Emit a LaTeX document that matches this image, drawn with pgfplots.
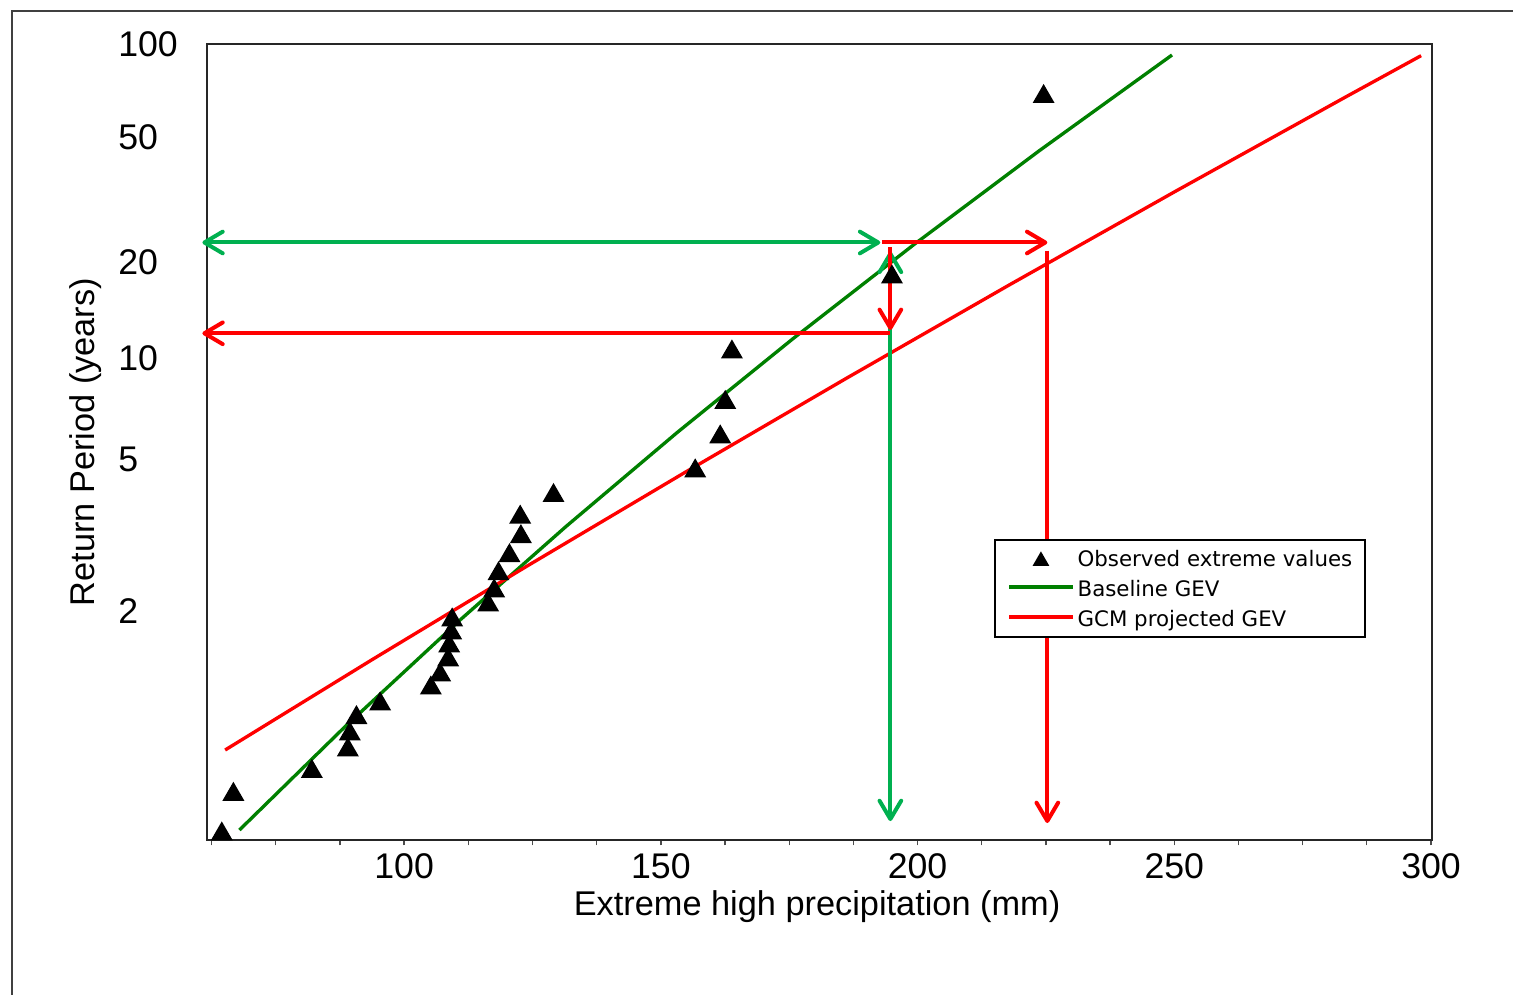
\documentclass[border=0pt]{standalone}
\usepackage{fontspec}
\setmainfont{Liberation Sans}
\newfontfamily\legfont{DejaVu Sans}
\usepackage{pgfplots}
\usepackage{pgfplotstable}
\pgfplotsset{compat=1.18}
\usetikzlibrary{arrows.meta}
\definecolor{linegreen}{RGB}{0,128,0}
\definecolor{arrowgreen}{RGB}{0,176,80}
\definecolor{myred}{RGB}{255,0,0}

\pgfplotsset{
  leglinecode/.style={legend image code/.code={\draw[##1] (0pt,0.4pt) -- (19pt,0.4pt);}},
  legmarkcode/.style={legend image code/.code={\draw[##1, mark size=2.3pt] plot coordinates {(9.5pt,-0.8pt)};}},
}

% y values are Gumbel reduced variates  -ln(-ln(1-1/T))
\pgfplotstableread{
x y
64.48 -1.299
66.74 -1.003
82.02 -0.832
89.03 -0.671
89.42 -0.552
90.71 -0.430
95.32 -0.328
105.20 -0.209
107.01 -0.111
108.57 0.001
108.77 0.105
109.16 0.202
109.35 0.299
116.36 0.411
117.53 0.516
118.37 0.644
120.51 0.779
122.74 0.921
122.60 1.067
129.09 1.228
156.69 1.412
161.56 1.666
162.54 1.923
163.84 2.300
195.01 2.860
224.55 4.207
}\observed

\pgfplotstableread{
x y
67.91 -1.269
88.41 -0.5
110.91 0.3
131.60 1.0
153.20 1.7
175.74 2.4
199.20 3.1
223.59 3.8
249.56 4.518
}\baseline

\pgfplotstableread{
x y
65.13 -0.6714
93.62 0.0
123.85 0.7
154.63 1.4
185.95 2.1
217.81 2.8
250.22 3.5
283.16 4.2
298.07 4.513
}\gcm

\begin{document}
\begin{tikzpicture}
\useasboundingbox (-62.1pt,-46.2pt) rectangle (391.8pt,252pt);
\draw[black!75, line width=0.6pt] (-58.6pt,-60pt) -- (-58.6pt,248.8pt) -- (400pt,248.8pt);
\begin{axis}[
  scale only axis, width=367.5pt, height=238.8pt,
  xmin=61.6, xmax=300.2, ymin=-1.3435, ymax=4.6001,
  clip=false,
  axis line style={black!85, line width=0.6pt},
  xtick={100,150,200,250,300},
  minor xtick={62.5,75,87.5,112.5,125,137.5,162.5,175,187.5,212.5,225,237.5,262.5,275,287.5},
  xtick pos=left, tick align=outside,
  major tick length=1.6pt, minor tick length=1.6pt,
  every tick/.style={black!70, line width=0.4pt},
  ytick={0.3665,1.4999,2.2504,2.9702,3.9019,4.6001},
  yticklabels={2,5,10,20,50,100},
  ytick style={draw=none},
  ticklabel style={font=\fontsize{10.7}{12}\selectfont},
  /pgf/number format/assume math mode=true,
  yticklabel style={anchor=west, inner sep=0pt, xshift=-25.2pt},
  xticklabel style={anchor=north, inner sep=0pt, yshift=-2.4pt},
  xlabel={Extreme high precipitation (mm)},
  ylabel={Return Period (years)},
  label style={font=\fontsize{10.3}{12}\selectfont},
  xlabel style={at={(axis description cs:0.498,-0.0842)}, anchor=center},
  ylabel style={at={(axis description cs:-0.0988,0.5)}, anchor=center},
  legend cell align=left,
  legend style={at={(axis description cs:0.6424,0.3781)}, anchor=north west,
    draw=black, line width=0.6pt, inner xsep=3.8pt, inner ysep=1.5pt,
    font=\legfont\fontsize{6.4}{8}\selectfont, row sep=1pt,
    nodes={inner sep=0pt, text height=6.4pt, text depth=1.6pt},
    /tikz/every odd column/.append style={column sep=1pt}},
]
\addplot[only marks, mark=triangle*, mark size=3.4pt, black, legmarkcode]
  table[x=x,y=y]{\observed};
\addlegendentry{Observed extreme values}
\addplot[linegreen, line width=1pt, no marks, leglinecode]
  table[x=x,y=y]{\baseline};
\addlegendentry{Baseline GEV}
\addplot[myred, line width=1pt, no marks, leglinecode]
  table[x=x,y=y]{\gcm};
\addlegendentry{GCM projected GEV}

% annotation arrows
\addplot[forget plot, arrowgreen, line width=1.2pt,
  {Straight Barb[length=5.5pt,width=6.5pt,round]}-{Straight Barb[length=5.5pt,width=6.5pt,round]}]
  coordinates {(60.7,3.118) (192.73,3.118)};
\addplot[forget plot, arrowgreen, line width=1.2pt,
  {Straight Barb[length=5.5pt,width=6.5pt,round]}-{Straight Barb[length=5.5pt,width=6.5pt,round]}]
  coordinates {(194.7,3.049) (194.7,-1.202)};
\addplot[forget plot, myred, line width=1.2pt, -{Straight Barb[length=5.5pt,width=6.5pt,round]}]
  coordinates {(193.06,3.118) (225.27,3.118)};
\addplot[forget plot, myred, line width=1.2pt, -{Straight Barb[length=5.5pt,width=6.5pt,round]}]
  coordinates {(194.7,3.082) (194.7,2.465)};
\addplot[forget plot, myred, line width=1.2pt, -{Straight Barb[length=5.5pt,width=6.5pt,round]}]
  coordinates {(194.7,2.440) (60.7,2.440)};
\addplot[forget plot, myred, line width=1.2pt, -{Straight Barb[length=5.5pt,width=6.5pt,round]}]
  coordinates {(225.27,3.057) (225.27,-1.2165)};
\end{axis}
\end{tikzpicture}
\end{document}
